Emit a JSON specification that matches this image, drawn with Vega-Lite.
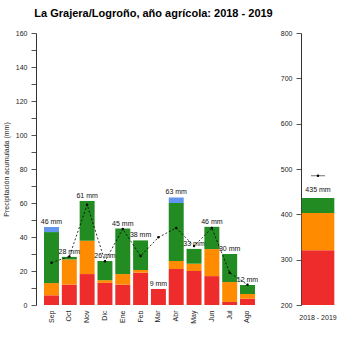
{
  "$schema": "https://vega.github.io/schema/vega-lite/v6.json",
  "padding": {"left": 2, "top": 8, "right": 5, "bottom": 5},
  "background": "white",
  "title": {"text": "La Grajera/Logroño, año agrícola: 2018 - 2019", "anchor": "start", "font": "Liberation Sans", "fontSize": 11, "fontWeight": "bold", "color": "#000000", "dx": 32, "offset": 10},
  "config": {
    "view": {"stroke": null},
    "axis": {"labelFont": "Liberation Sans", "titleFont": "Liberation Sans", "labelFontSize": 7, "titleFontSize": 7, "titleFontWeight": "normal", "labelColor": "#222222", "titleColor": "#222222", "domainColor": "#333333", "tickColor": "#555555", "grid": false, "labelOverlap": false}
  },
  "datasets": {
    "monthly": [
      {"month": "Sep", "cat": "c1", "ord": 1, "value": 5.7},
      {"month": "Sep", "cat": "c2", "ord": 2, "value": 7.2},
      {"month": "Sep", "cat": "c3", "ord": 3, "value": 30.0},
      {"month": "Sep", "cat": "c4", "ord": 4, "value": 3.0},
      {"month": "Oct", "cat": "c1", "ord": 1, "value": 12.0},
      {"month": "Oct", "cat": "c2", "ord": 2, "value": 14.8},
      {"month": "Oct", "cat": "c3", "ord": 3, "value": 1.5},
      {"month": "Nov", "cat": "c1", "ord": 1, "value": 18.2},
      {"month": "Nov", "cat": "c2", "ord": 2, "value": 19.6},
      {"month": "Nov", "cat": "c3", "ord": 3, "value": 23.4},
      {"month": "Dic", "cat": "c1", "ord": 1, "value": 13.0},
      {"month": "Dic", "cat": "c2", "ord": 2, "value": 1.6},
      {"month": "Dic", "cat": "c3", "ord": 3, "value": 11.3},
      {"month": "Ene", "cat": "c1", "ord": 1, "value": 12.0},
      {"month": "Ene", "cat": "c2", "ord": 2, "value": 6.2},
      {"month": "Ene", "cat": "c3", "ord": 3, "value": 26.8},
      {"month": "Feb", "cat": "c1", "ord": 1, "value": 19.0},
      {"month": "Feb", "cat": "c2", "ord": 2, "value": 1.6},
      {"month": "Feb", "cat": "c3", "ord": 3, "value": 17.4},
      {"month": "Mar", "cat": "c1", "ord": 1, "value": 9.4},
      {"month": "Abr", "cat": "c1", "ord": 1, "value": 21.2},
      {"month": "Abr", "cat": "c2", "ord": 2, "value": 4.7},
      {"month": "Abr", "cat": "c3", "ord": 3, "value": 34.1},
      {"month": "Abr", "cat": "c4", "ord": 4, "value": 3.3},
      {"month": "May", "cat": "c1", "ord": 1, "value": 20.0},
      {"month": "May", "cat": "c2", "ord": 2, "value": 4.3},
      {"month": "May", "cat": "c3", "ord": 3, "value": 8.7},
      {"month": "Jun", "cat": "c1", "ord": 1, "value": 17.0},
      {"month": "Jun", "cat": "c2", "ord": 2, "value": 15.9},
      {"month": "Jun", "cat": "c3", "ord": 3, "value": 13.1},
      {"month": "Jul", "cat": "c1", "ord": 1, "value": 1.8},
      {"month": "Jul", "cat": "c2", "ord": 2, "value": 11.7},
      {"month": "Jul", "cat": "c3", "ord": 3, "value": 16.5},
      {"month": "Ago", "cat": "c1", "ord": 1, "value": 3.7},
      {"month": "Ago", "cat": "c2", "ord": 2, "value": 2.8},
      {"month": "Ago", "cat": "c3", "ord": 3, "value": 5.3}
    ],
    "totals": [
      {"month": "Sep", "total": 45.9, "label": "46 mm", "normal": 24.9},
      {"month": "Oct", "total": 28.3, "label": "28 mm", "normal": 28.5},
      {"month": "Nov", "total": 61.2, "label": "61 mm", "normal": 59.0},
      {"month": "Dic", "total": 25.9, "label": "26 mm", "normal": 25.7},
      {"month": "Ene", "total": 45.0, "label": "45 mm", "normal": 44.7},
      {"month": "Feb", "total": 38.0, "label": "38 mm", "normal": 28.8},
      {"month": "Mar", "total": 9.4, "label": "9 mm", "normal": 39.8},
      {"month": "Abr", "total": 63.3, "label": "63 mm", "normal": 45.3},
      {"month": "May", "total": 33.0, "label": "33 mm", "normal": 34.7},
      {"month": "Jun", "total": 46.0, "label": "46 mm", "normal": 45.3},
      {"month": "Jul", "total": 30.0, "label": "30 mm", "normal": 19.0},
      {"month": "Ago", "total": 11.8, "label": "12 mm", "normal": 11.9}
    ],
    "annual": [
      {"period": "2018 - 2019", "cat": "c1", "ord": 1, "value": 321},
      {"period": "2018 - 2019", "cat": "c2", "ord": 2, "value": 82},
      {"period": "2018 - 2019", "cat": "c3", "ord": 3, "value": 33}
    ],
    "annualTotal": [
      {"period": "2018 - 2019", "total": 436, "label": "435 mm", "normal": 485}
    ]
  },
  "hconcat": [
    {
      "width": 227,
      "height": 272,
      "encoding": {
        "x": {"field": "month", "type": "nominal", "sort": ["Sep","Oct","Nov","Dic","Ene","Feb","Mar","Abr","May","Jun","Jul","Ago"],
              "scale": {"paddingInner": 0.16, "paddingOuter": 0.45},
              "axis": {"title": null, "labelAngle": -90, "domain": false, "ticks": false, "labelPadding": 5}}
      },
      "layer": [
        {
          "data": {"name": "monthly"},
          "mark": {"type": "bar"},
          "encoding": {
            "y": {"field": "value", "type": "quantitative", "stack": "zero",
                  "scale": {"domain": [0, 160], "nice": false},
                  "axis": {"title": "Precipitación acumulada (mm)", "values": [0,10,20,30,40,50,60,70,80,90,100,110,120,130,140,150,160], "labelExpr": "datum.value % 20 == 0 ? datum.label : ''", "labelOverlap": false, "tickSize": 5, "labelPadding": 4, "titlePadding": 6}},
            "color": {"field": "cat", "type": "nominal", "scale": {"domain": ["c1","c2","c3","c4"], "range": ["#EE2C2C","#FF8C00","#228B22","#6495ED"]}, "legend": null},
            "order": {"field": "ord", "type": "quantitative"}
          }
        },
        {
          "data": {"name": "totals"},
          "mark": {"type": "line", "color": "#000000", "strokeWidth": 0.8, "strokeDash": [2, 2]},
          "encoding": {"y": {"field": "normal", "type": "quantitative", "scale": {"domain": [0, 160], "nice": false},
                  "axis": {"title": "Precipitación acumulada (mm)", "values": [0,10,20,30,40,50,60,70,80,90,100,110,120,130,140,150,160], "labelExpr": "datum.value % 20 == 0 ? datum.label : ''", "labelOverlap": false, "tickSize": 5, "labelPadding": 4, "titlePadding": 6}}}
        },
        {
          "data": {"name": "totals"},
          "mark": {"type": "point", "filled": true, "color": "#000000", "size": 6, "opacity": 1},
          "encoding": {"y": {"field": "normal", "type": "quantitative", "scale": {"domain": [0, 160], "nice": false},
                  "axis": {"title": "Precipitación acumulada (mm)", "values": [0,10,20,30,40,50,60,70,80,90,100,110,120,130,140,150,160], "labelExpr": "datum.value % 20 == 0 ? datum.label : ''", "labelOverlap": false, "tickSize": 5, "labelPadding": 4, "titlePadding": 6}}}
        },
        {
          "data": {"name": "totals"},
          "mark": {"type": "text", "font": "Liberation Sans", "fontSize": 7, "color": "#111111", "baseline": "bottom", "dy": -2},
          "encoding": {"y": {"field": "total", "type": "quantitative", "scale": {"domain": [0, 160], "nice": false},
                  "axis": {"title": "Precipitación acumulada (mm)", "values": [0,10,20,30,40,50,60,70,80,90,100,110,120,130,140,150,160], "labelExpr": "datum.value % 20 == 0 ? datum.label : ''", "labelOverlap": false, "tickSize": 5, "labelPadding": 4, "titlePadding": 6}}, "text": {"field": "label"}}
        }
      ]
    },
    {
      "width": 34,
      "height": 272,
      "encoding": {
        "x": {"field": "period", "type": "nominal", "scale": {"paddingInner": 0.05, "paddingOuter": 0.02},
              "axis": {"title": null, "labelAngle": 0, "domain": false, "ticks": false, "labelPadding": 8}}
      },
      "layer": [
        {
          "data": {"name": "annual"},
          "mark": {"type": "bar", "clip": true},
          "encoding": {
            "y": {"field": "value", "type": "quantitative", "stack": "zero",
                  "scale": {"domain": [200, 800], "nice": false},
                  "axis": {"title": null, "values": [200,300,400,500,600,700,800], "labelOverlap": false, "tickSize": 5, "labelPadding": 4}},
            "color": {"field": "cat", "type": "nominal", "scale": {"domain": ["c1","c2","c3","c4"], "range": ["#EE2C2C","#FF8C00","#228B22","#6495ED"]}, "legend": null},
            "order": {"field": "ord", "type": "quantitative"}
          }
        },
        {
          "data": {"name": "annualTotal"},
          "mark": {"type": "tick", "color": "#000000", "size": 14, "thickness": 0.8, "strokeDash": [2, 2]},
          "encoding": {"y": {"field": "normal", "type": "quantitative", "scale": {"domain": [200, 800], "nice": false}, "axis": {"title": null, "values": [200,300,400,500,600,700,800], "labelOverlap": false, "tickSize": 5, "labelPadding": 4}}}
        },
        {
          "data": {"name": "annualTotal"},
          "mark": {"type": "point", "filled": true, "color": "#000000", "size": 6, "opacity": 1},
          "encoding": {"y": {"field": "normal", "type": "quantitative", "scale": {"domain": [200, 800], "nice": false}, "axis": {"title": null, "values": [200,300,400,500,600,700,800], "labelOverlap": false, "tickSize": 5, "labelPadding": 4}}}
        },
        {
          "data": {"name": "annualTotal"},
          "mark": {"type": "text", "font": "Liberation Sans", "fontSize": 7, "color": "#111111", "baseline": "bottom", "dy": -5},
          "encoding": {"y": {"field": "total", "type": "quantitative", "scale": {"domain": [200, 800], "nice": false}, "axis": {"title": null, "values": [200,300,400,500,600,700,800], "labelOverlap": false, "tickSize": 5, "labelPadding": 4}}, "text": {"field": "label"}}
        }
      ]
    }
  ],
  "spacing": 17,
  "resolve": {"scale": {"y": "independent", "color": "shared"}}
}
